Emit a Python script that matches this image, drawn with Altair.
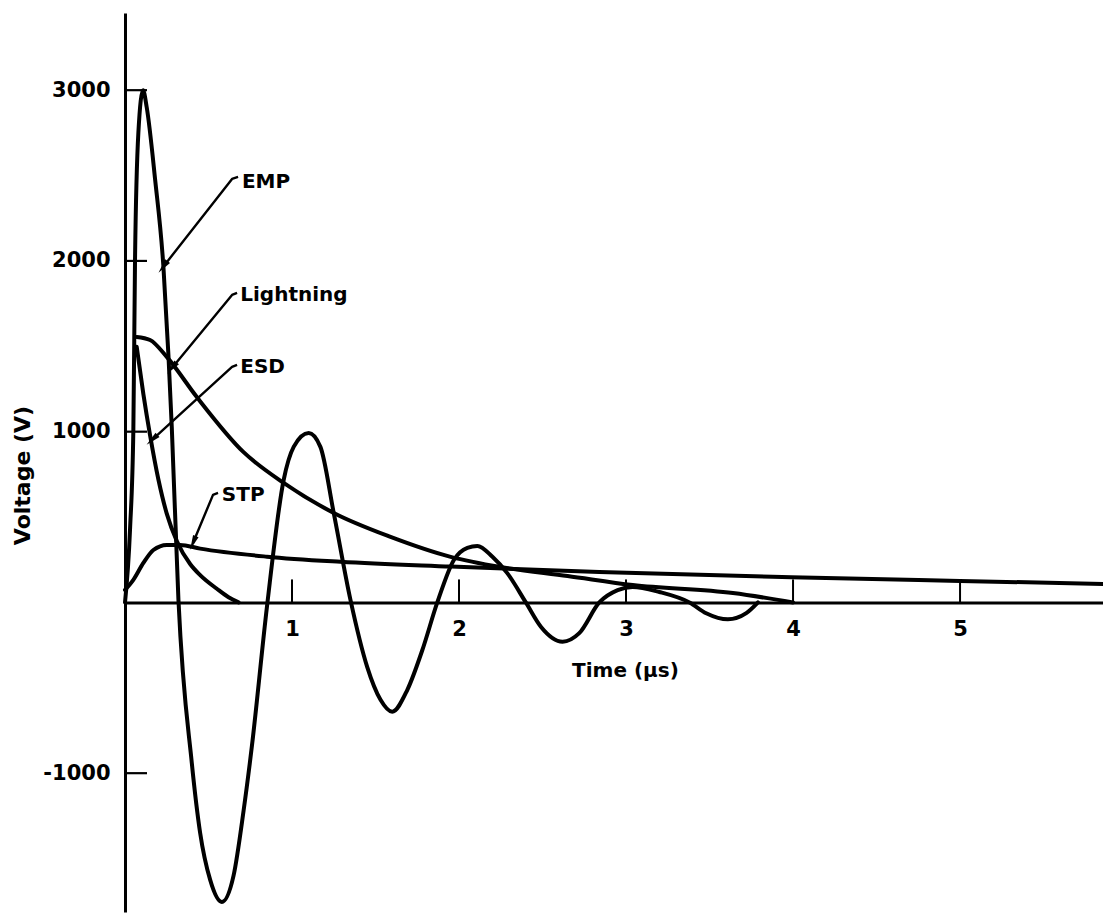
import math
import altair as alt
import pandas as pd

# ---------------- data ----------------
emp_t = [0.00, 0.03, 0.05, 0.06, 0.08, 0.108, 0.13, 0.18, 0.23, 0.26, 0.28, 0.32, 0.40, 0.45,
         0.51, 0.58, 0.65, 0.71, 0.76, 0.85, 0.95, 1.01, 1.10, 1.17, 1.25, 1.35, 1.45, 1.53,
         1.60, 1.69, 1.78, 1.87, 1.97, 2.05, 2.11, 2.20, 2.29, 2.40, 2.49, 2.62, 2.72, 2.84,
         2.95, 3.04, 3.20, 3.38, 3.48, 3.61, 3.72, 3.79]
emp_v = [0, 425, 1010, 2005, 2750, 3000, 2900, 2480, 1966, 1450, 1030, 15, -940, -1350,
         -1625, -1754, -1600, -1220, -840, -25, 717, 911, 992, 911, 523, 15, -377, -570,
         -640, -513, -280, 0, 250, 320, 331, 267, 170, 0, -142, -230, -180, 0,
         72, 91, 61, 0, -63, -99, -63, 0]

lightning_t = [0.07, 0.15, 0.25, 0.43, 0.71, 0.95, 1.25, 1.59, 1.95, 2.25, 2.65, 3.04, 3.64, 4.00]
lightning_v = [1555, 1537, 1438, 1203, 880, 700, 524, 384, 267, 207, 155, 102, 55, 0]

esd_t = [0.07, 0.11, 0.15, 0.20, 0.25, 0.31, 0.39, 0.45, 0.55, 0.62, 0.68]
esd_v = [1497, 1220, 980, 720, 520, 360, 225, 160, 80, 30, 0]

stp_t = [0.00, 0.05, 0.11, 0.17, 0.25, 0.33, 0.45, 0.85, 1.29, 1.95, 2.84, 3.99, 5.00, 5.856]
stp_v = [73, 132, 231, 307, 337, 337, 315, 268, 238, 210, 178, 148, 126, 108]

series_names = ["EMP", "Lightning", "ESD", "STP"]

# label positions (data coords) and leader lines (text end -> hook -> arrow tip)
label_t = [0.70, 0.69, 0.69, 0.58]
label_v = [2460, 1801, 1376, 632]
leader_t = [[0.677, 0.641, 0.228], [0.671, 0.641, 0.281], [0.671, 0.641, 0.162], [0.557, 0.527, 0.407]]
leader_v = [[2492, 2480, 1965], [1813, 1801, 1373], [1391, 1379, 952], [641, 630, 348]]

x_ticks = [1, 2, 3, 4, 5]
y_ticks = [3000, 2000, 1000, -1000]

x_domain = [0, 5.856]
y_domain = [-1813, 3452]

# ---------------- layout ----------------
W, H = 978, 899
y0px = H * (y_domain[1] - 0) / (y_domain[1] - y_domain[0])
px_per_t = W / (x_domain[1] - x_domain[0])
px_per_v = H / (y_domain[1] - y_domain[0])
FONT = "DejaVu Sans"

rows = []
for name, ts, vs in zip(series_names, [emp_t, lightning_t, esd_t, stp_t], [emp_v, lightning_v, esd_v, stp_v]):
    for i, (t, v) in enumerate(zip(ts, vs)):
        rows.append({"series": name, "t": t, "v": v, "o": i})
curves = pd.DataFrame(rows)

lrows, arows = [], []
for name, ts, vs in zip(series_names, leader_t, leader_v):
    for i, (t, v) in enumerate(zip(ts, vs)):
        lrows.append({"series": name, "t": t, "v": v, "o": i})
    dx = (ts[2] - ts[1]) * px_per_t
    dy = -(vs[2] - vs[1]) * px_per_v
    ang = math.degrees(math.atan2(dx, -dy)) % 360
    arows.append({"series": name, "t": ts[2], "v": vs[2], "ang": ang})
leaders = pd.DataFrame(lrows)
arrows = pd.DataFrame(arows)
labels = pd.DataFrame({"series": series_names, "t": label_t, "v": label_v})
yticks = pd.DataFrame({"v": y_ticks})
xticks = pd.DataFrame({"t": x_ticks})

x_enc = alt.X(
    "t:Q",
    scale=alt.Scale(domain=x_domain, nice=False, zero=False),
    axis=alt.Axis(
        values=x_ticks, format="d", ticks=False, grid=False,
        domainWidth=3, domainColor="black",
        labelFont=FONT, labelFontWeight="bold", labelFontSize=21, labelColor="black",
        labelPadding=33, labelBaseline="alphabetic", labelFlush=False,
        offset=y0px - H,
        title="Time (µs)", titleFont=FONT, titleFontWeight="bold", titleFontSize=20,
        titleColor="black", titleX=500, titleY=74, titleAlign="center",
        titleBaseline="alphabetic",
    ),
)
y_enc = alt.Y(
    "v:Q",
    scale=alt.Scale(domain=y_domain, nice=False, zero=False),
    axis=alt.Axis(
        values=y_ticks, ticks=False, grid=False,
        labelExpr="datum.value < 0 ? '-' + abs(datum.value) : '' + datum.value",
        domainWidth=3, domainColor="black",
        labelFont=FONT, labelFontWeight="bold", labelFontSize=21, labelColor="black",
        labelPadding=15, labelFlush=False,
        title="Voltage (V)", titleFont=FONT, titleFontWeight="bold", titleFontSize=22,
        titleColor="black", titleX=-103, titleY=462, titleAngle=270,
        titleAlign="center", titleBaseline="middle",
    ),
)

lines = alt.Chart(curves).mark_line(
    color="black", strokeWidth=4, interpolate="monotone", strokeCap="round", strokeJoin="round"
).encode(x=x_enc, y=y_enc, detail="series:N", order="o:Q")

ytick_rules = alt.Chart(yticks).mark_rule(color="black", strokeWidth=2.2).encode(
    x=alt.value(0), x2=alt.value(22), y=y_enc
)
xtick_rules = alt.Chart(xticks).mark_rule(color="black", strokeWidth=2).encode(
    x=x_enc, y=alt.value(y0px), y2=alt.value(y0px - 23)
)

leader_lines = alt.Chart(leaders).mark_line(
    color="black", strokeWidth=2.4, interpolate="linear", strokeJoin="round"
).encode(x=x_enc, y=y_enc, detail="series:N", order="o:Q")

arrow_heads = alt.Chart(arrows).mark_point(
    shape="M0,-1L0.4,1L-0.4,1Z", filled=True, color="black", opacity=1, size=220
).encode(x=x_enc, y=y_enc, angle=alt.Angle("ang:Q", scale=None))

label_text = alt.Chart(labels).mark_text(
    align="left", baseline="middle", font=FONT, fontWeight="bold", fontSize=20, color="black"
).encode(x=x_enc, y=y_enc, text="series:N")

chart = alt.layer(
    lines, ytick_rules, xtick_rules, leader_lines, arrow_heads, label_text
).properties(
    width=W, height=H,
    padding={"left": 125, "top": 13, "right": 0, "bottom": 7},
    autosize=alt.AutoSizeParams(type="none"),
    background="white",
).configure_view(stroke=None)

chart.save("out.html", embed_options={"renderer": "svg", "actions": False})
